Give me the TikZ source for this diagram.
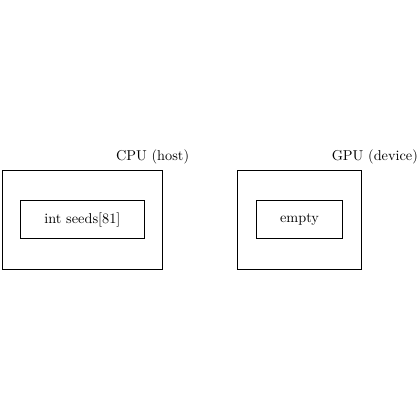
\documentclass[tikz,border=0pt]{standalone}
\usepackage{tikz}
\usetikzlibrary{positioning}

\begin{document}
\begin{tikzpicture}[
        space/.style = {draw, semithick, rectangle, minimum width=#1, minimum height=2.43cm, inner sep=0pt},
        memory/.style = {draw, semithick, rectangle, minimum width=#1, minimum height=0.93cm, inner sep=0pt},
    ]
    \useasboundingbox (0,0) rectangle (10.32,10.32);
    % host side
    \node[space=3.93cm] (cpu) at (2.025,4.925) {};
    \node[memory=3.04cm] (seeds) at (cpu.center) {int seeds[81]};
    \node (cpulabel) at (3.75,6.46) {CPU (host)};
    % device side
    \node[space=3.06cm] (gpu) at (7.36,4.925) {};
    \node[memory=2.11cm] (empty) at (gpu.center) {empty};
    \node (gpulabel) at (9.21,6.46) {GPU (device)};
\end{tikzpicture}
\end{document}
